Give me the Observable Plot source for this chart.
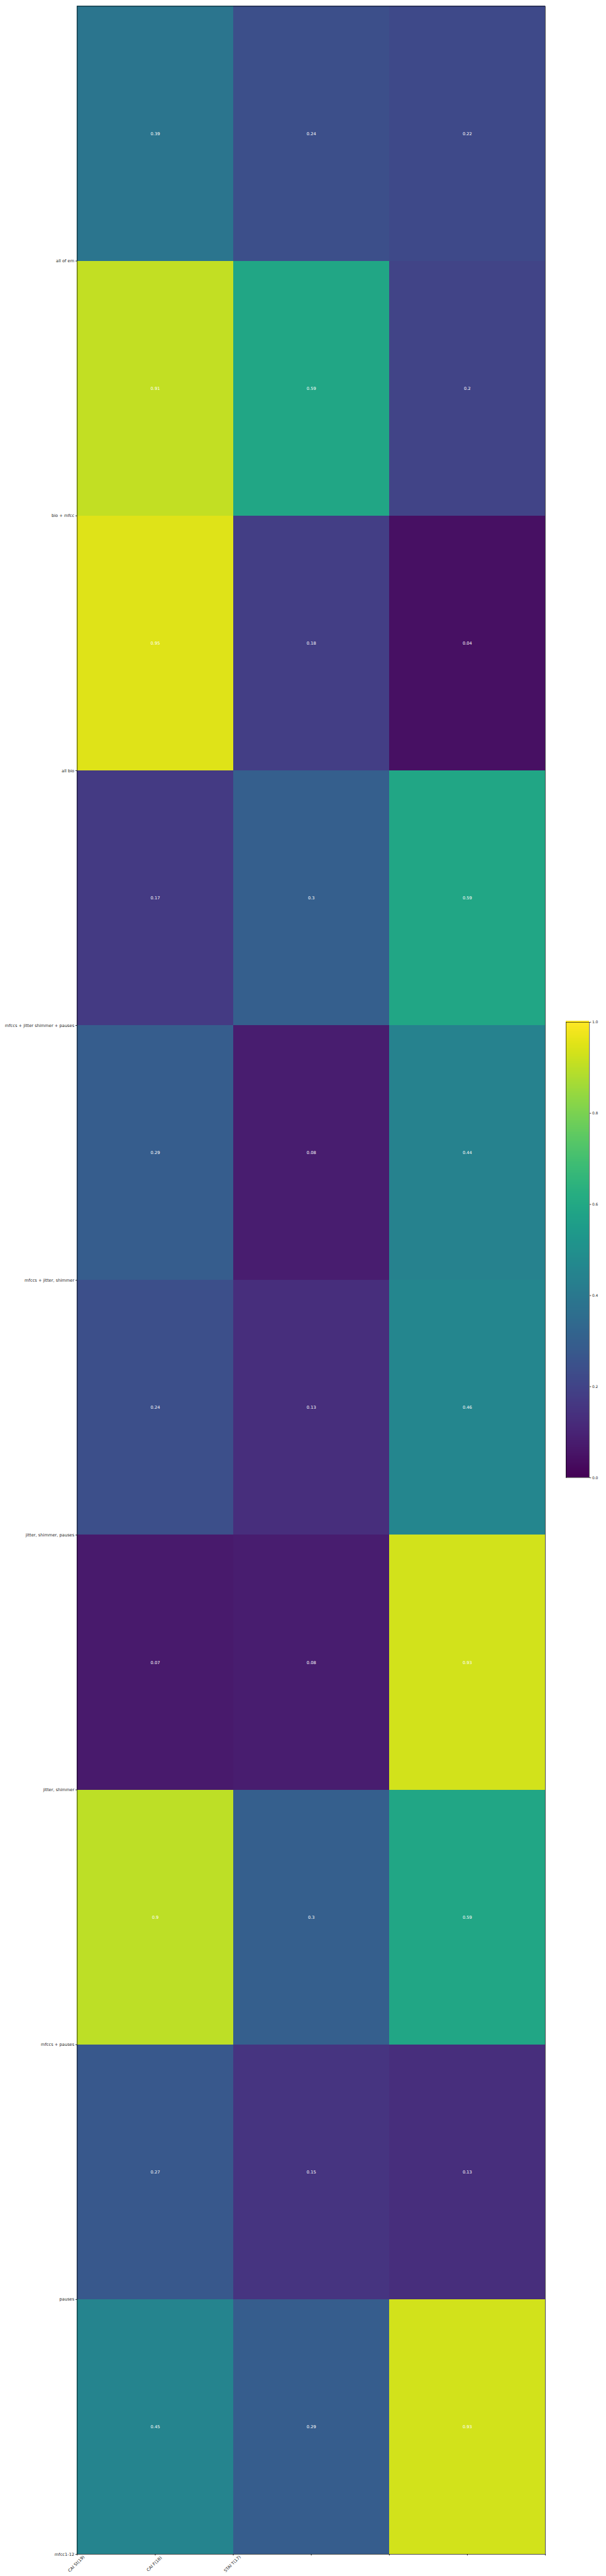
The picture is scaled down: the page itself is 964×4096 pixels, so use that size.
<!DOCTYPE html>
<html>
<head>
<meta charset="utf-8">
<script src="https://cdn.jsdelivr.net/npm/d3@7"></script>
<script src="https://cdn.jsdelivr.net/npm/@observablehq/plot@0.6"></script>
<style>
  html, body { margin: 0; padding: 0; background: #fff; }
  #wrap { position: relative; width: 964px; height: 4096px; font-family: "DejaVu Sans", sans-serif; }
  #cbar { position: absolute; left: 900px; top: 1616px; }
</style>
</head>
<body>
<div id="wrap"><div id="main"></div><div id="cbar"></div></div>
<script>
// Row labels (placed at row boundaries 1..10, as in the reference)
const rowLabels = [
  "all of em",
  "bio + mfcc",
  "all bio",
  "mfccs + jitter shimmer + pauses",
  "mfccs + jitter, shimmer",
  "jitter, shimmer, pauses",
  "jitter, shimmer",
  "mfccs + pauses",
  "pauses",
  "mfcc1-12"
];
// Column tick labels (placed at x ticks 0, 0.5, 1)
const colLabels = ["CAI St(19)", "CAI F(18)", "STAI T(17)"];
const colLabelTicks = [0, 0.5, 1];
const xTicks = [0, 0.5, 1, 1.5, 2, 2.5, 3];

// Cell values, one array per column, rows top to bottom
const caiSt = [0.39, 0.91, 0.95, 0.17, 0.29, 0.24, 0.07, 0.9, 0.27, 0.45];
const caiF  = [0.24, 0.59, 0.18, 0.3, 0.08, 0.13, 0.08, 0.3, 0.15, 0.29];
const staiT = [0.22, 0.2, 0.04, 0.59, 0.44, 0.46, 0.93, 0.59, 0.13, 0.93];
const columns = [caiSt, caiF, staiT];

const cbTicks = [0, 0.2, 0.4, 0.6, 0.8, 1.0];

const S = 0.669;
const fs = 10 * S;

const cells = [];
columns.forEach((col, j) => col.forEach((v, i) => cells.push({row: i, col: j, v})));

const xLab = colLabels.map((t, k) => ({t, x: colLabelTicks[k]}));

const main = Plot.plot({
  width: 964,
  height: 4096,
  marginLeft: 122.4,
  marginRight: 964 - 867,
  marginTop: 9.4,
  marginBottom: 4096 - 4061,
  style: {fontFamily: "DejaVu Sans, sans-serif", fontSize: fs + "px", color: "#262626", background: "#fff"},
  x: {domain: [0, 3]},
  y: {domain: [0, 10], reverse: true},
  color: {type: "linear", scheme: "viridis", domain: [0, 1]},
  marks: [
    Plot.rect(cells, {x1: d => d.col, x2: d => d.col + 1, y1: d => d.row, y2: d => d.row + 1, fill: "v", shapeRendering: "crispEdges"}),
    Plot.text(cells, {x: d => d.col + 0.5, y: d => d.row + 0.5, text: d => String(d.v), fill: "white", fontSize: fs}),
    Plot.axisY({ticks: d3.range(1, 11), tickFormat: i => rowLabels[i - 1], tickSize: 3.5 * S, tickPadding: 3.5 * S, label: null, fontSize: fs}),
    Plot.axisX({ticks: xTicks, tickFormat: () => "", tickSize: 3.5 * S, label: null}),
    Plot.text(xLab, {x: "x", text: "t", frameAnchor: "bottom", dy: 25 * S, rotate: -45, textAnchor: "middle", fontSize: fs, fill: "#262626"}),
    Plot.frame({stroke: "#000", strokeWidth: 0.7})
  ]
});
document.getElementById("main").appendChild(main);

const steps = d3.range(0, 256).map(k => k / 256);
const cb = Plot.plot({
  width: 42 + 30,
  height: 815 + 20,
  marginLeft: 0,
  marginRight: 30,
  marginTop: 10,
  marginBottom: 10,
  style: {fontFamily: "DejaVu Sans, sans-serif", fontSize: fs + "px", color: "#262626", background: "transparent"},
  x: {domain: [0, 1], axis: null},
  y: {domain: [0, 1]},
  color: {type: "linear", scheme: "viridis", domain: [0, 1]},
  marks: [
    Plot.rect(steps, {x1: 0, x2: 1, y1: d => d, y2: d => d + 1 / 256 + 0.002, fill: d => d, shapeRendering: "crispEdges"}),
    Plot.axisY({anchor: "right", ticks: cbTicks, tickFormat: d3.format(".1f"), tickSize: 3.5 * S, tickPadding: 3.5 * S, label: null, fontSize: fs}),
    Plot.frame({stroke: "#000", strokeWidth: 0.7})
  ]
});
document.getElementById("cbar").appendChild(cb);
</script>
</body>
</html>
